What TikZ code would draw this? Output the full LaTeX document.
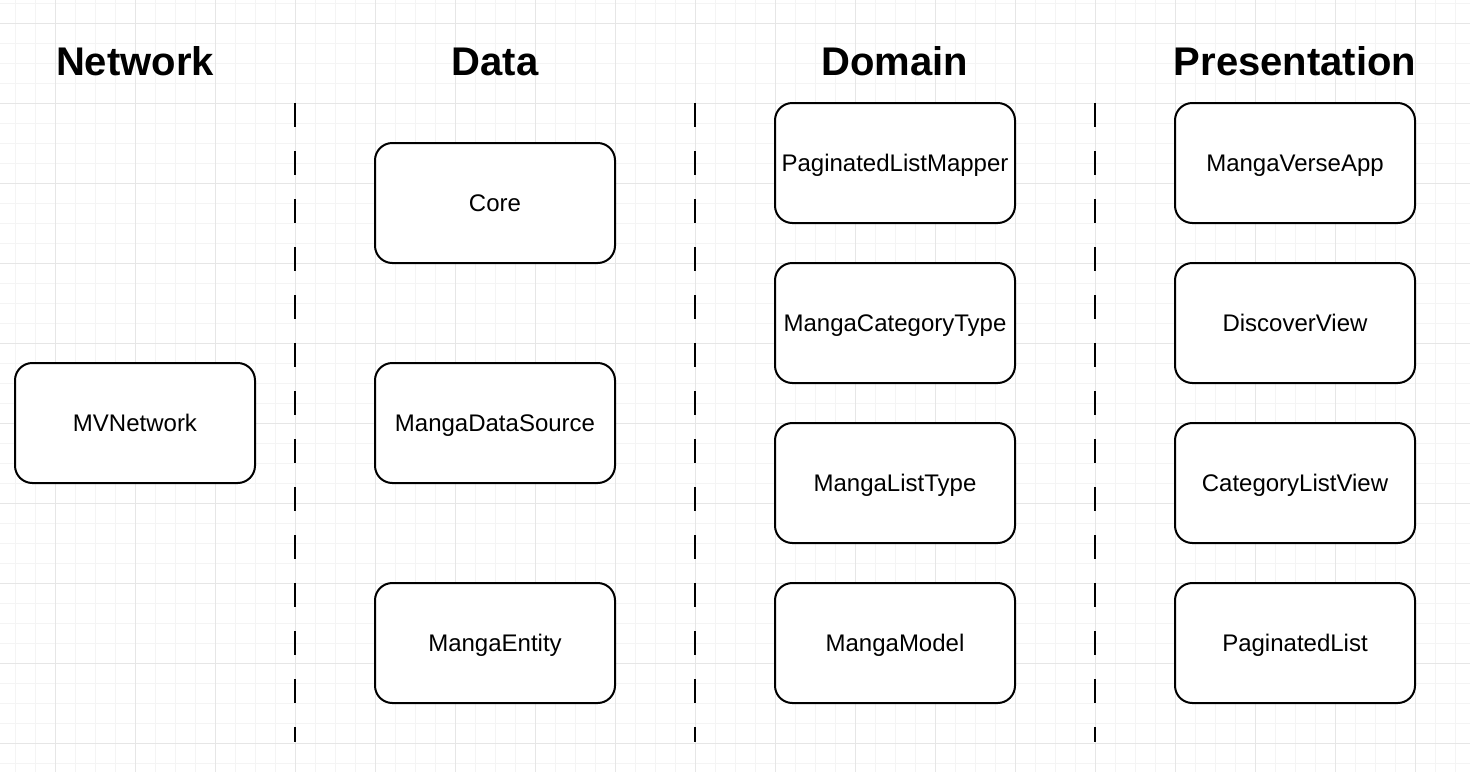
\documentclass[tikz,border=0pt]{standalone}
\usepackage{fontspec}
\setmainfont{Liberation Sans}
\tikzset{
  layerbox/.style={draw, line width=1.5pt, rounded corners=13pt, fill=white,
    minimum width=180pt, minimum height=90pt, inner sep=0pt,
    text height=12.9pt, text depth=0pt,
    font=\fontsize{18}{22}\selectfont},
  layertitle/.style={text height=21.5pt, text depth=0pt, inner sep=0pt,
    font=\fontsize{30}{36}\selectfont\bfseries},
  divider/.style={line width=1.5pt, dash pattern=on 18pt off 18pt},
  gridminor/.style={line width=0.75pt, draw={rgb,255:red,244;green,244;blue,244}},
  gridmajor/.style={line width=0.75pt, draw={rgb,255:red,230;green,230;blue,230}}
}
\begin{document}
\begin{tikzpicture}[x=0.75pt, y=-0.75pt]
    \useasboundingbox (0,0) rectangle (1470,772);

    % background grid
    \foreach \x in {15,35,...,1455}
        \draw[gridminor] (\x,0) -- (\x,772);
    \foreach \y in {3,23,...,763}
        \draw[gridminor] (0,\y) -- (1470,\y);
    \foreach \x in {55,135,...,1415}
        \draw[gridmajor] (\x,0) -- (\x,772);
    \foreach \y in {23,103,...,743}
        \draw[gridmajor] (0,\y) -- (1470,\y);

    % layer titles
    \node[layertitle] (network) at (135,61) {Network};
    \node[layertitle] (data) at (495,61) {Data};
    \node[layertitle] (domain) at (895,61) {Domain};
    \node[layertitle] (presentation) at (1295,61) {Presentation};

    % dividers
    \foreach \x in {295,695,1095}
        \draw[divider] (\x,103) -- (\x,742);

    % network
    \node[layerbox] (mvnetwork) at (135,423) {MVNetwork};

    % data
    \node[layerbox] (core) at (495,203) {Core};
    \node[layerbox] (datasource) at (495,423) {MangaDataSource};
    \node[layerbox] (entity) at (495,643) {MangaEntity};

    % domain
    \node[layerbox] (listmapper) at (895,163) {PaginatedListMapper};
    \node[layerbox] (categorytype) at (895,323) {MangaCategoryType};
    \node[layerbox] (listtype) at (895,483) {MangaListType};
    \node[layerbox] (model) at (895,643) {MangaModel};

    % presentation
    \node[layerbox] (app) at (1295,163) {MangaVerseApp};
    \node[layerbox] (discover) at (1295,323) {DiscoverView};
    \node[layerbox] (categorylist) at (1295,483) {CategoryListView};
    \node[layerbox] (paginated) at (1295,643) {PaginatedList};
\end{tikzpicture}
\end{document}
